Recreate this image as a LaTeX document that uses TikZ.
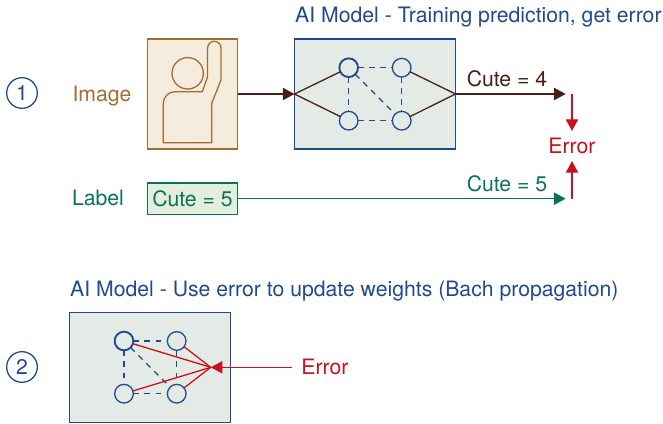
\documentclass[tikz,border=0pt]{standalone}
\usepackage{fontspec}
\setmainfont{TeX Gyre Heros}
\usetikzlibrary{arrows.meta}
\definecolor{modelblue}{HTML}{1F4A8F}
\definecolor{modelfill}{HTML}{E4EAE5}
\definecolor{imagebrown}{HTML}{A56C32}
\definecolor{imagefill}{HTML}{F4ECDC}
\definecolor{darkbrown}{HTML}{4A1F17}
\definecolor{labelgreen}{HTML}{0B7355}
\definecolor{labelfill}{HTML}{E3EEDF}
\definecolor{errorred}{HTML}{C8101E}
\tikzset{
	txt/.style={font=\fontsize{18.1}{21}\selectfont, inner sep=0pt},
	modelbox/.style={draw=modelblue, fill=modelfill, line width=1.2pt, minimum width=4.83cm, minimum height=3.3cm, outer sep=0pt},
	unit/.style={circle, draw=modelblue, line width=1.1pt, minimum size=0.56cm, inner sep=0pt, outer sep=0pt},
	unitfirst/.style={unit, line width=1.6pt},
	weight/.style={draw=modelblue, line width=1.1pt, dash pattern=on 5pt off 4.5pt},
	stepmark/.style={txt, circle, draw=modelblue, text=modelblue, line width=1.1pt, minimum size=0.92cm},
	errlabel/.style={txt, text=errorred, inner xsep=0.27cm, minimum height=0.9cm, outer sep=0pt}
}
\begin{document}
\begin{tikzpicture}[x=0.03cm, y=-0.03cm, >={Triangle[length=10pt,width=10.5pt]}]
		\useasboundingbox (0,0) rectangle (663,424);
		% Titoli
		\node [txt, text=modelblue, anchor=west] (titleA) at (295,17) {AI Model - Training prediction, get error};
		\node [txt, text=modelblue, anchor=west] (titleB) at (70,291) {AI Model - Use error to update weights (Bach propagation)};
		\node [stepmark] (stepA) at (22,93) {1};
		\node [stepmark] (stepB) at (22,367) {2};
		
		% Immagine
		\node [txt, text=imagebrown] (imagetxt) at (102,96) {Image};
		\node [draw=imagebrown, fill=imagefill, line width=1.2pt, minimum width=2.71cm, minimum height=3.3cm, outer sep=0pt] (imagebox) at (192.5,94) {};
		\draw [draw=imagebrown, line width=1.1pt, line join=round] (163.3,142.7) -- (211.7,142.7) -- (211.7,103.3) -- (221,80) -- (221,48) arc (0:-180:6.7) -- (207.6,76.7) -- (202.3,91.7) -- (175,91.7) arc (-90:-180:11.7) -- cycle;
		\draw [draw=imagebrown, line width=1.1pt] (187.7,73.3) circle (15.7);
		
		% Etichetta
		\node [txt, text=labelgreen] (labeltxt) at (98,198) {Label};
		\node [txt, text=labelgreen, draw=labelgreen, fill=labelfill, line width=1.2pt, minimum width=2.71cm, minimum height=0.94cm, outer sep=0pt] (labelbox) at (192.5,198.7) {Cute = 5};
		
		% Modello in alto
		\node [modelbox] (modelA) at (375,94) {};
		\node [unitfirst] (a1) at (348.7,67.7) {};
		\node [unit] (a2) at (401.7,67.7) {};
		\node [unit] (a3) at (348.7,120.7) {};
		\node [unit] (a4) at (401.7,120.7) {};
		\foreach \from/\to in {a1/a2,a1/a3,a1/a4,a2/a4,a3/a4}
			\draw [weight] (\from) -- (\to);
		\foreach \from in {a1,a3}
			\draw [darkbrown, line width=1.1pt] (modelA.west) -- (\from);
		\foreach \from in {a2,a4}
			\draw [darkbrown, line width=1.1pt] (\from) -- (modelA.east);
		
		% Frecce
		\coordinate (outA) at (565.7,94);
		\coordinate (outB) at (565.7,198.7);
		\draw [->, darkbrown, line width=1.1pt] (imagebox.east) -- (modelA.west);
		\draw [->, darkbrown, line width=1.1pt] (modelA.east) -- (outA);
		\draw [->, labelgreen, line width=1.1pt] (labelbox.east) -- (outB);
		\node [txt, text=darkbrown] (cutefour) at (507,79) {Cute = 4};
		\node [txt, text=labelgreen] (cutefive) at (507,184) {Cute = 5};
		
		% Errore
		\node [errlabel] (errorA) at (572,146) {Error};
		\coordinate (errtop) at (572,94);
		\coordinate (errbottom) at (572,198.7);
		\draw [->, errorred, line width=1.1pt] (errtop) -- (errorA.north);
		\draw [->, errorred, line width=1.1pt] (errbottom) -- (errorA.south);
		
		% Modello in basso
		\node [modelbox] (modelB) at (150.2,367.7) {};
		\node [unitfirst] (b1) at (124,341) {};
		\node [unit] (b2) at (176.7,341) {};
		\node [unit] (b3) at (124,393.7) {};
		\node [unit] (b4) at (176.7,393.7) {};
		\foreach \from/\to in {b1/b2,b1/b3,b1/b4,b2/b4,b3/b4}
			\draw [weight] (\from) -- (\to);
		\coordinate (hub) at (210.7,367.3);
		\foreach \from in {b1,b2,b3,b4}
			\draw [errorred, line width=1.1pt] (\from) -- (hub);
		\node [errlabel] (errorB) at (325,367.3) {Error};
		\draw [->, errorred, line width=1.1pt] (errorB.west) -- (hub);
	\end{tikzpicture}
\end{document}
